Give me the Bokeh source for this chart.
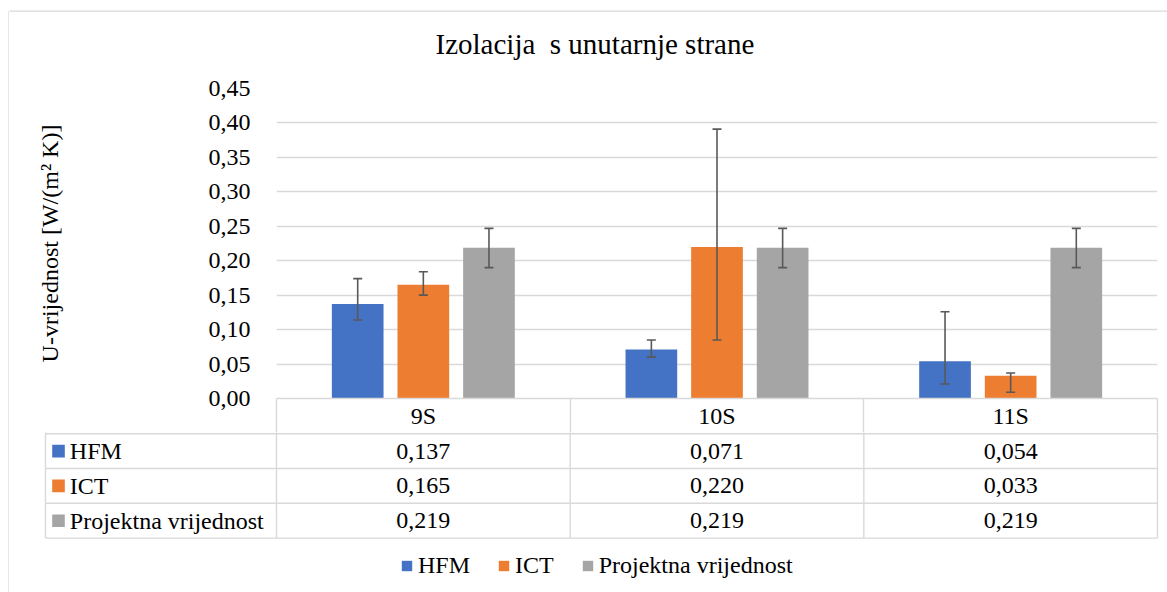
import numpy as np
from bokeh.plotting import figure
from bokeh.layouts import column, row
from bokeh.models import (Range1d, FixedTicker, CustomJSTickFormatter, ColumnDataSource,
                          Whisker, TeeHead, Legend, LegendItem, LinearAxis)
from bokeh.core.properties import value
from bokeh.embed import file_html
from bokeh.resources import INLINE

# ---------------- data ----------------
categories = ["9S", "10S", "11S"]
series = ["HFM", "ICT", "Projektna vrijednost"]
hfm = [0.137, 0.071, 0.054]
ict = [0.165, 0.220, 0.033]
proj = [0.219, 0.219, 0.219]
# error bar ends
hfm_hi = [0.174, 0.085, 0.126]
hfm_lo = [0.114, 0.060, 0.021]
ict_hi = [0.184, 0.391, 0.037]
ict_lo = [0.150, 0.085, 0.009]
proj_hi = [0.247, 0.247, 0.247]
proj_lo = [0.190, 0.190, 0.190]
y_ticks = [0.00, 0.05, 0.10, 0.15, 0.20, 0.25, 0.30, 0.35, 0.40, 0.45]
title_text = "Izolacija \u00a0s unutarnje strane"
y_title = "U-vrijednost [W/(m\u00b2 K)]"

# ---------------- style / layout ----------------
colors = ["#4472C4", "#ED7D31", "#A5A5A5"]
FONT = "Liberation Serif"
GRID = "#D9D9D9"
ERR = "#595959"
W = 1167
H = 592
LEFT_STRIP = 9       # strip carrying the chart border's left edge
HEAD_H = 76          # strip carrying the chart border's top edge and the title
HEAD_FRAME = 12
BORDER_X = 8.5
BORDER_Y = 10.7
INNER_W = W - LEFT_STRIP
SPLIT_Y = 432        # page y where table body starts
TOP_H = SPLIT_Y - HEAD_H
BOT_H = H - SPLIT_Y
FRAME_L = 276
FRAME_R = 1157
FRAME_T = 88
FRAME_B = 398
PX_X = (FRAME_R - FRAME_L) / 3.0   # pixels per category unit
ROW_PX = 34.8
offsets = [-0.2235, 0.0, 0.2235]
BAR_W = 0.176


def bare(fig, hide_title=True):
    fig.grid.visible = False
    if hide_title:
        fig.title.visible = False
    fig.frame_align = False
    return fig


# ================= left border strip =================
sl = bare(figure(width=LEFT_STRIP, height=H, x_range=Range1d(0, LEFT_STRIP),
                 y_range=Range1d(H, 0), x_axis_type=None, y_axis_type=None,
                 output_backend="svg", toolbar_location=None,
                 min_border_left=0, min_border_right=0, min_border_top=0, min_border_bottom=0,
                 outline_line_color=None, border_fill_color="white"))
sl.segment(x0=[BORDER_X], x1=[BORDER_X], y0=[BORDER_Y], y1=[H + 10], line_color=GRID, line_width=1.3)
sl.segment(x0=[BORDER_X], x1=[LEFT_STRIP + 5], y0=[BORDER_Y], y1=[BORDER_Y], line_color=GRID, line_width=1.3)

# ================= head strip: top border edge + chart title =================
st = bare(figure(width=INNER_W, height=HEAD_H, x_range=Range1d(LEFT_STRIP, W),
                 y_range=Range1d(HEAD_FRAME, 0), x_axis_type=None, y_axis_type=None,
                 title=title_text, title_location="below",
                 output_backend="svg", toolbar_location=None,
                 min_border_left=0, min_border_right=0, min_border_top=0,
                 min_border_bottom=HEAD_H - HEAD_FRAME,
                 outline_line_color=None, border_fill_color="white"), hide_title=False)
st.segment(x0=[LEFT_STRIP - 5], x1=[W + 10], y0=[BORDER_Y], y1=[BORDER_Y], line_color=GRID, line_width=1.3)
st.title.text_font = FONT
st.title.text_font_size = "29px"
st.title.text_font_style = "normal"
st.title.text_color = "black"
st.title.align = "left"
st.title.offset = 435 - LEFT_STRIP
st.title.vertical_align = "bottom"
st.title.standoff = 26

# ================= main figure: chart =================
p = figure(width=INNER_W, height=TOP_H,
           x_range=Range1d(0, 3), y_range=Range1d(0, 0.45),
           x_axis_type=None, output_backend="svg", toolbar_location=None,
           min_border_left=FRAME_L - LEFT_STRIP, min_border_right=W - FRAME_R,
           min_border_top=FRAME_T - HEAD_H, min_border_bottom=SPLIT_Y - FRAME_B,
           outline_line_color=None, background_fill_color="white", border_fill_color="white")
p.frame_align = False
p.title.visible = False

p.yaxis.ticker = FixedTicker(ticks=y_ticks)
p.yaxis.formatter = CustomJSTickFormatter(code="return tick.toFixed(2).replace('.', ',');")
p.yaxis.major_label_text_font = FONT
p.yaxis.major_label_text_font_size = "24px"
p.yaxis.major_label_text_color = "black"
p.yaxis.axis_line_color = None
p.yaxis.major_tick_line_color = None
p.yaxis.minor_tick_line_color = None
p.yaxis.major_label_standoff = 20
p.yaxis.axis_label = y_title
p.yaxis.axis_label_text_font = FONT
p.yaxis.axis_label_text_font_size = "24px"
p.yaxis.axis_label_text_font_style = "normal"
p.yaxis.axis_label_text_color = "black"
p.yaxis.axis_label_standoff = 143

p.ygrid.ticker = FixedTicker(ticks=y_ticks)
p.ygrid.grid_line_color = GRID
p.ygrid.grid_line_width = 1.5

# category axis = header row of the data table
HEAD = SPLIT_Y - FRAME_B
xaxis = LinearAxis(ticker=FixedTicker(ticks=[i + 0.5 for i in range(len(categories))],
                                      minor_ticks=list(range(len(categories) + 1))),
                   formatter=CustomJSTickFormatter(args=dict(cats=categories),
                                                   code="return cats[Math.floor(tick)];"))
xaxis.axis_line_color = GRID
xaxis.axis_line_width = 1.4
xaxis.major_tick_line_color = None
xaxis.major_tick_in = 0
xaxis.major_tick_out = 0
xaxis.minor_tick_line_color = GRID
xaxis.minor_tick_line_width = 1.4
xaxis.minor_tick_in = 0
xaxis.minor_tick_out = HEAD
xaxis.major_label_standoff = 4 - HEAD
xaxis.major_label_text_font = FONT
xaxis.major_label_text_font_size = "24px"
xaxis.major_label_text_color = "black"
p.add_layout(xaxis, "below")

idx = np.arange(len(categories)) + 0.5
values = [hfm, ict, proj]
his = [hfm_hi, ict_hi, proj_hi]
los = [hfm_lo, ict_lo, proj_lo]
for k in range(3):
    src = ColumnDataSource(dict(x=idx + offsets[k], top=values[k], hi=his[k], lo=los[k]))
    p.vbar(x="x", top="top", bottom=0, width=BAR_W, source=src,
           fill_color=colors[k], line_color=None)
    w = Whisker(base="x", upper="hi", lower="lo", source=src,
                line_color=ERR, line_width=1.6, level="annotation")
    w.upper_head = TeeHead(size=9, line_color=ERR, line_width=1.6)
    w.lower_head = TeeHead(size=9, line_color=ERR, line_width=1.6)
    p.add_layout(w)

# ================= bottom figure: data table + legend =================
x0 = (LEFT_STRIP - FRAME_L) / PX_X
x1 = (W - FRAME_L) / PX_X
off = 1.2 / ROW_PX
q = bare(figure(width=INNER_W, height=BOT_H,
                x_range=Range1d(x0, x1), y_range=Range1d(-BOT_H / ROW_PX + off, off),
                x_axis_type=None, y_axis_type=None, output_backend="svg", toolbar_location=None,
                min_border_left=0, min_border_right=0, min_border_top=0, min_border_bottom=0,
                outline_line_color=None, background_fill_color="white", border_fill_color="white"))

LEG_L = (45 - FRAME_L) / PX_X
n_rows = len(series)
ncat = len(categories)
q.segment(x0=[LEG_L] * (n_rows + 1), x1=[ncat] * (n_rows + 1),
          y0=[-r for r in range(n_rows + 1)], y1=[-r for r in range(n_rows + 1)],
          line_color=GRID, line_width=1.4)
vx = [LEG_L] + list(range(ncat + 1))
q.segment(x0=vx, x1=vx, y0=[off + 0.1] * len(vx), y1=[-n_rows] * len(vx),
          line_color=GRID, line_width=1.4)

txt = dict(text_font=value(FONT), text_font_size="24px", text_color="black",
           text_baseline="middle")
for k in range(n_rows):
    yc = -(k + 0.5)
    labels = [f"{v:.3f}".replace(".", ",") for v in values[k]]
    q.text(x=idx, y=[yc] * ncat, text=labels, text_align="center", **txt)
    q.rect(x=[LEG_L + 13.0 / PX_X], y=[yc], width=12.6, height=12.6,
           width_units="screen", height_units="screen",
           fill_color=colors[k], line_color=None)
    q.text(x=[LEG_L + 24.3 / PX_X], y=[yc], text=[series[k]], text_align="left", **txt)

# legend swatches come from off-screen renderers of the same colours
leg_r = [q.vbar(x=[x0 - 5], top=[0], width=0.1, fill_color=c, line_color=None) for c in colors]
legend = Legend(items=[LegendItem(label=s, renderers=[r]) for s, r in zip(series, leg_r)],
                orientation="horizontal", location=(400 - LEFT_STRIP, 13),
                glyph_width=13, glyph_height=13, label_standoff=5, spacing=27,
                padding=0, margin=0, border_line_color=None, background_fill_alpha=0,
                label_text_font=FONT, label_text_font_size="24px", label_text_color="black")
q.add_layout(legend)

layout = row(sl, column(st, p, q, spacing=0), spacing=0)
open("out.html", "w").write(file_html(layout, INLINE))
